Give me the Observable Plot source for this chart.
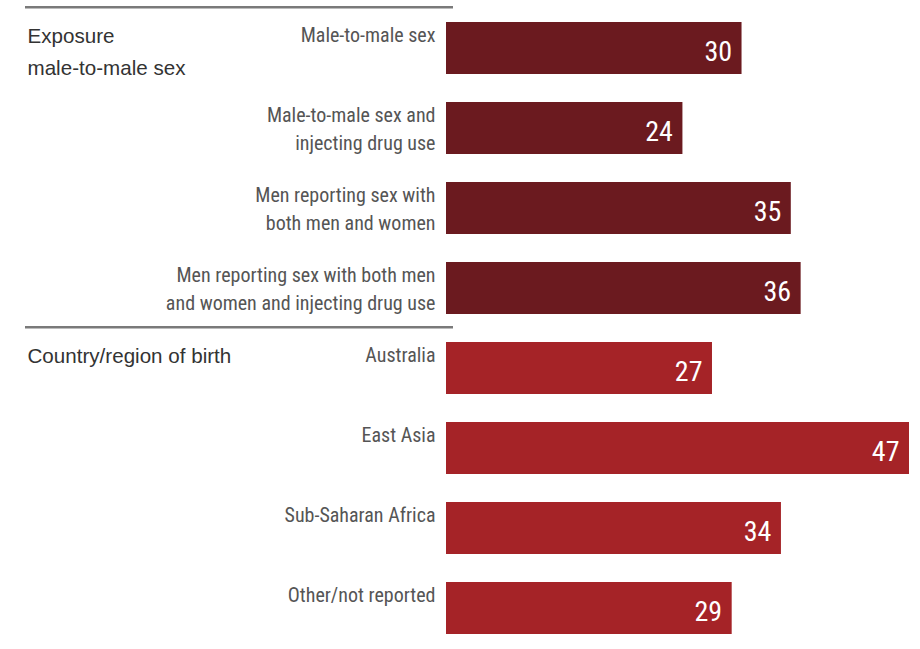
<!DOCTYPE html>
<html><head><meta charset="utf-8">
<script src="https://cdn.jsdelivr.net/npm/d3@7"></script>
<script src="https://cdn.jsdelivr.net/npm/@observablehq/plot@0.6"></script>
<style>
body{margin:0;background:#fff}
#chart svg{display:block}
</style></head><body><div id="chart"></div>
<script>
const categories = [
  "Male-to-male sex",
  "Male-to-male sex and\ninjecting drug use",
  "Men reporting sex with\nboth men and women",
  "Men reporting sex with both men\nand women and injecting drug use",
  "Australia",
  "East Asia",
  "Sub-Saharan Africa",
  "Other/not reported"
];
const values = [30, 24, 35, 36, 27, 47, 34, 29];
const groups = ["exposure", "exposure", "exposure", "exposure", "birth", "birth", "birth", "birth"];
const groupKeys = ["exposure", "birth"];
const groupLabels = ["Exposure\nmale-to-male sex", "Country/region of birth"];
const groupColors = ["#6b1a1f", "#a52327"];

const data = categories.map((c, i) => ({cat: c, value: values[i], group: groups[i]}));
const groupData = groupKeys.map((g, i) => ({group: g, label: groupLabels[i], first: categories[groups.indexOf(g)]}));

const W = 920, H = 649, mt = 21, mb = 13, pin = 0.345;
const step = (H - mt - mb) / (categories.length - pin);
const bw = step * (1 - pin);

const condensed = "'Roboto Condensed', 'Liberation Sans Narrow', 'Arial Narrow', 'Roboto', sans-serif";

const plot = Plot.plot({
  width: W, height: H,
  marginLeft: 25, marginRight: 467, marginTop: mt, marginBottom: mb,
  x: {domain: [0, 47], range: [446, 909], axis: null},
  y: {domain: categories, paddingInner: pin, paddingOuter: 0, axis: null},
  color: {domain: groupKeys, range: groupColors},
  marks: [
    Plot.ruleY(groupData, {y: "first", dy: -step / 2 - 1, stroke: "#7a7a7a", strokeWidth: 2.5}),
    Plot.barX(data, {x: "value", y: "cat", fill: "group"}),
    Plot.text(data, {x: 0, y: "cat", text: "cat", dx: -11, dy: -bw / 2, textAnchor: "end", lineAnchor: "top",
      lineHeight: 1.4, fontSize: 20, fill: "#555", fontFamily: condensed}),
    Plot.text(data, {x: "value", y: "cat", text: d => String(d.value), dx: -10, dy: 4, textAnchor: "end",
      fontSize: 28, fill: "white", fontFamily: condensed}),
    Plot.text(groupData, {y: "first", text: "label", frameAnchor: "left", dx: 2, dy: -bw / 2 - 2, textAnchor: "start",
      lineAnchor: "top", lineHeight: 1.55, fontSize: 20.6, fill: "#333", fontFamily: "'Liberation Sans', Arial, sans-serif"})
  ]
});
document.getElementById("chart").append(plot);
</script></body></html>
